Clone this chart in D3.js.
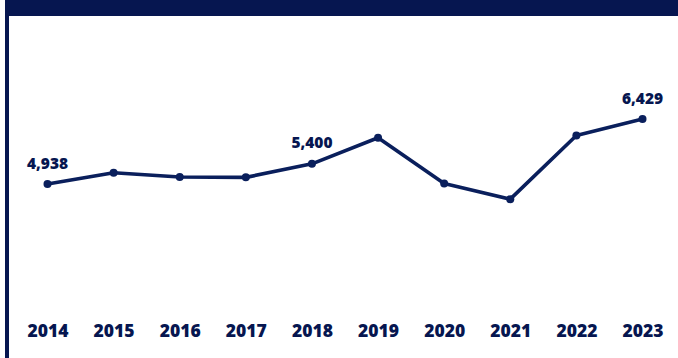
<!DOCTYPE html>
<html>
<head>
<meta charset="utf-8">
<script src="https://cdn.jsdelivr.net/npm/d3@7"></script>
<style>
  html, body { margin: 0; padding: 0; background: #ffffff; }
  svg { display: block; }
</style>
</head>
<body>
<svg id="chart" width="678" height="358"></svg>
<script>
// Yearly totals
const years = ["2014", "2015", "2016", "2017", "2018", "2019", "2020", "2021", "2022", "2023"];
const totals = [4938, 5195, 5100, 5090, 5400, 6000, 4950, 4590, 6050, 6429];
// Years whose value is printed above the point
const labelledYears = ["2014", "2018", "2023"];

const navy = "#061650";
const lineNavy = "#0a1f5c";

const W = 678, H = 358;
const svg = d3.select("#chart");

// Frame: top band and left rule
svg.append("rect").attr("x", 5).attr("y", 0).attr("width", W - 5).attr("height", 16).attr("fill", navy);
svg.append("rect").attr("x", 5).attr("y", 0).attr("width", 4).attr("height", H).attr("fill", navy);

const x = d3.scalePoint().domain(years).range([47.5, 642.5]);
const y = d3.scaleLinear().domain([4938, 6429]).range([184, 119]);

const data = years.map((yr, i) => ({ year: yr, value: totals[i] }));

// Year axis along the bottom
const xAxis = d3.axisBottom(x).tickSize(0).tickPadding(0);
const gx = svg.append("g").attr("transform", "translate(0,325)").call(xAxis);
gx.select(".domain").remove();
gx.selectAll("text")
  .attr("dy", "0.71em")
  .attr("fill", navy)
  .style("font-family", "'Open Sans', sans-serif")
  .style("font-weight", "800")
  .style("font-size", "17.5px");

// Trend line
const line = d3.line().x(d => x(d.year)).y(d => y(d.value));
svg.append("path")
  .datum(data)
  .attr("d", line)
  .attr("fill", "none")
  .attr("stroke", lineNavy)
  .attr("stroke-width", 3.6)
  .attr("stroke-linejoin", "round");

svg.selectAll("circle.pt")
  .data(data)
  .join("circle")
  .attr("class", "pt")
  .attr("cx", d => x(d.year))
  .attr("cy", d => y(d.value))
  .attr("r", 4)
  .attr("fill", lineNavy);

// Value labels
const fmt = d3.format(",");
svg.selectAll("text.val")
  .data(data.filter(d => labelledYears.includes(d.year)))
  .join("text")
  .attr("class", "val")
  .attr("x", d => x(d.year))
  .attr("y", d => y(d.value) - 15.5)
  .attr("text-anchor", "middle")
  .attr("fill", navy)
  .style("font-family", "'Open Sans', sans-serif")
  .style("font-weight", "800")
  .style("font-size", "15.5px")
  .text(d => fmt(d.value));
</script>
</body>
</html>
